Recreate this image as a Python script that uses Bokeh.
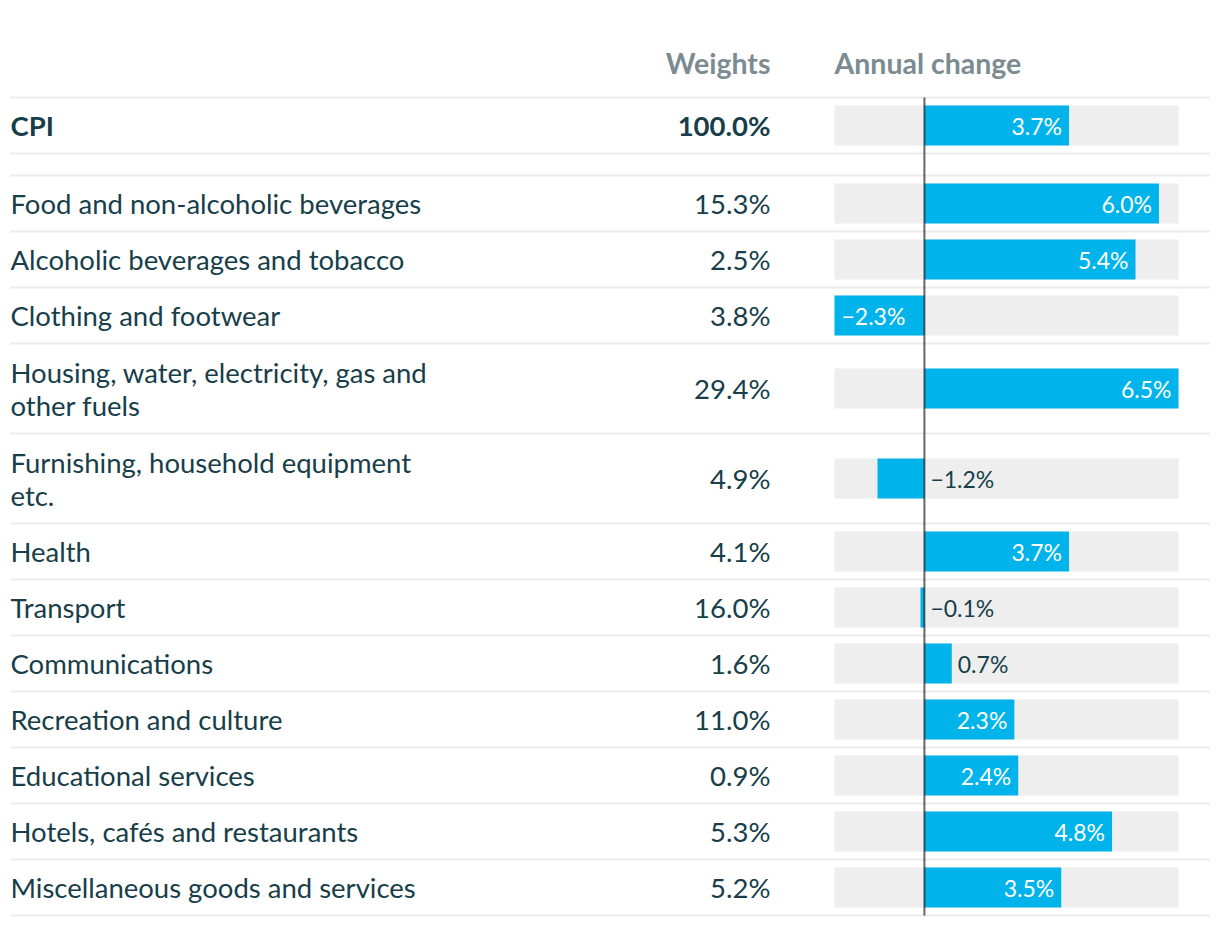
from bokeh.plotting import figure
from bokeh.models import Range1d, ColumnDataSource
from bokeh.core.properties import value
from bokeh.embed import file_html
from bokeh.resources import INLINE

# ---------------- data ----------------
categories = [
    "CPI",
    "Food and non-alcoholic beverages",
    "Alcoholic beverages and tobacco",
    "Clothing and footwear",
    "Housing, water, electricity, gas and\nother fuels",
    "Furnishing, household equipment\netc.",
    "Health",
    "Transport",
    "Communications",
    "Recreation and culture",
    "Educational services",
    "Hotels, cafés and restaurants",
    "Miscellaneous goods and services",
]
weights = [100.0, 15.3, 2.5, 3.8, 29.4, 4.9, 4.1, 16.0, 1.6, 11.0, 0.9, 5.3, 5.2]
annual_change = [3.7, 6.0, 5.4, -2.3, 6.5, -1.2, 3.7, -0.1, 0.7, 2.3, 2.4, 4.8, 3.5]
headers = ["Weights", "Annual change"]

# ---------------- style / layout ----------------
W, H = 1212, 918
FONT = "Lato"
TEXT_COLOR = "#173e49"
HEAD_COLOR = "#7b8b91"
BAR_COLOR = "#00b4eb"
BG_COLOR = "#eeeeee"
SEP_COLOR = "#ebebeb"

LABEL_X = 10
WEIGHT_X = 770
BAR_LEFT_PX, BAR_RIGHT_PX = 834, 1178
HEADER_Y = 62
TOP_LINE = 97
ROW_H = 56
EXTRA_LINE_H = 34
GAP = 22
BAR_H = 40
SEP_X0, SEP_X1 = 10, 1210

lo, hi = min(annual_change), max(annual_change)
px_per_unit = (BAR_RIGHT_PX - BAR_LEFT_PX) / (hi - lo)
pct_start = lo - BAR_LEFT_PX / px_per_unit
pct_end = hi + (W - BAR_RIGHT_PX) / px_per_unit

# row geometry
centers, seps = [], [TOP_LINE]
y = TOP_LINE
for i, c in enumerate(categories):
    n = c.count("\n") + 1
    h = ROW_H + EXTRA_LINE_H * (n - 1)
    centers.append(y + h / 2)
    y += h
    seps.append(y)
    if i == 0:
        y += GAP
        seps.append(y)
bottom = y

p = figure(width=W, height=H, output_backend="svg", toolbar_location=None,
           x_range=Range1d(0, W), y_range=Range1d(H, 0),
           x_axis_location=None, y_axis_location=None,
           min_border=0, outline_line_color=None)
p.extra_x_ranges = {"pct": Range1d(pct_start, pct_end)}
p.xgrid.visible = False
p.ygrid.visible = False
p.background_fill_color = "white"
p.border_fill_color = "white"

# background bars
p.hbar(y=centers, left=lo, right=hi, height=BAR_H, x_range_name="pct",
       fill_color=BG_COLOR, line_color=None)

# separators
p.segment(x0=[SEP_X0] * len(seps), x1=[SEP_X1] * len(seps), y0=seps, y1=seps,
          line_color=SEP_COLOR, line_width=2)

# value bars
p.hbar(y=centers, left=0, right=annual_change, height=BAR_H, x_range_name="pct",
       fill_color=BAR_COLOR, line_color=None)

# zero line
p.segment(x0=[0], x1=[0], y0=[TOP_LINE], y1=[bottom], x_range_name="pct",
          line_color="black", line_alpha=0.6, line_width=2)

# headers
p.text(x=[WEIGHT_X], y=[HEADER_Y], text=[headers[0]], text_align="right",
       text_baseline="middle", text_font=value(FONT), text_font_style="bold",
       text_font_size="28.5px", text_color=HEAD_COLOR)
p.text(x=[BAR_LEFT_PX], y=[HEADER_Y], text=[headers[1]], text_align="left",
       text_baseline="middle", text_font=value(FONT), text_font_style="bold",
       text_font_size="28.5px", text_color=HEAD_COLOR)

# category labels and weights
wtxt = [f"{w:.1f}%" for w in weights]
for style, idx in (("bold", [0]), ("normal", list(range(1, len(categories))))):
    src = ColumnDataSource(dict(y=[centers[i] for i in idx],
                                cat=[categories[i] for i in idx],
                                w=[wtxt[i] for i in idx]))
    p.text(x=LABEL_X, y="y", text="cat", source=src, text_align="left",
           text_baseline="middle", text_font=value(FONT), text_font_style=style,
           text_font_size="27.5px", text_color=TEXT_COLOR, text_line_height=1.0)
    p.text(x=WEIGHT_X, y="y", text="w", source=src, text_align="right",
           text_baseline="middle", text_font=value(FONT), text_font_style=style,
           text_font_size="27.5px", text_color=TEXT_COLOR)

# value labels
def fmt(v):
    s = f"{abs(v):.1f}%"
    return ("\u2212" + s) if v < 0 else s

groups = {"pos_in": ([], [], []), "neg_in": ([], [], []), "out": ([], [], [])}
for c, v in zip(centers, annual_change):
    if v >= 2:
        g = "pos_in"; xv = v
    elif v <= -2:
        g = "neg_in"; xv = v
    else:
        g = "out"; xv = max(v, 0)
    groups[g][0].append(xv)
    groups[g][1].append(c)
    groups[g][2].append(fmt(v))

cfg = {"pos_in": ("right", -7, "white"),
       "neg_in": ("left", 7, "white"),
       "out": ("left", 6, TEXT_COLOR)}
for g, (xs, ys, ts) in groups.items():
    align, off, col = cfg[g]
    p.text(x=xs, y=ys, text=ts, x_range_name="pct", x_offset=off,
           text_align=align, text_baseline="middle", text_font=value(FONT),
           text_font_size="23px", text_color=col)

open("out.html", "w").write(file_html(p, INLINE))
